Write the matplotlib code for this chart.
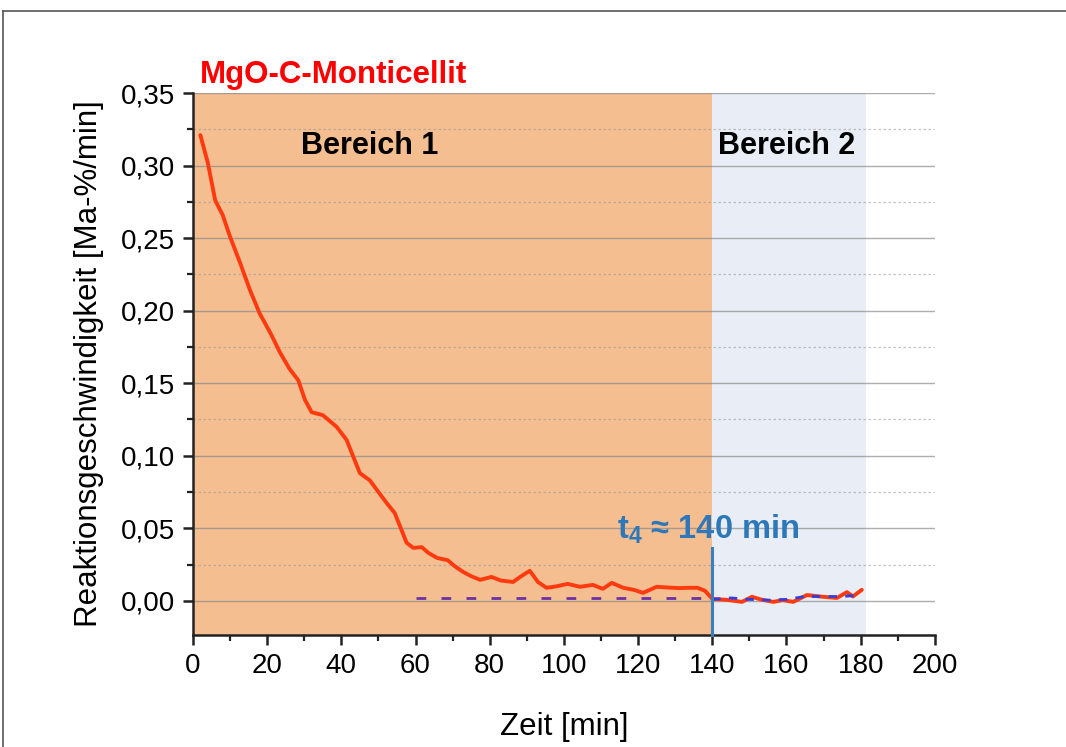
import numpy as np
import matplotlib
matplotlib.use("Agg")
import matplotlib.pyplot as plt
from matplotlib.ticker import MultipleLocator, FuncFormatter
from matplotlib.lines import Line2D

plt.rcParams['font.family'] = ['Liberation Sans', 'DejaVu Sans']

# Messkurve Reaktionsgeschwindigkeit (rot)
zeit = [2, 4, 6, 8, 10, 12.7, 15.4, 18, 21, 23.5, 26, 28.4, 30.2, 32, 35, 38.7,
        41.4, 45, 47.7, 50, 52.2, 54.4, 57.6, 59.4, 61.7, 63.5, 65.8, 68.7,
        70.5, 72.8, 75, 77.4, 80.5, 83, 86.3, 88.5, 90.8, 93, 95.3, 98, 101,
        104.3, 107.8, 110.5, 112.9, 116, 119, 121.3, 125, 128, 131, 134, 136,
        138, 140, 143.9, 148, 150.7, 153, 156.4, 159, 161.8, 165.5, 169.8,
        173.6, 176.3, 177.9, 180.3]
rate = [0.321, 0.302, 0.276, 0.266, 0.251, 0.233, 0.214, 0.198, 0.184, 0.171,
        0.160, 0.152, 0.1385, 0.130, 0.128, 0.120, 0.111, 0.088, 0.083, 0.075,
        0.0675, 0.0605, 0.040, 0.0365, 0.037, 0.033, 0.0296, 0.028, 0.024,
        0.020, 0.017, 0.0145, 0.0165, 0.014, 0.013, 0.017, 0.0207, 0.013,
        0.009, 0.010, 0.0117, 0.0097, 0.011, 0.0083, 0.0124, 0.009, 0.0075,
        0.0055, 0.0097, 0.0092, 0.0088, 0.009, 0.009, 0.007, 0.0014, 0.0007,
        -0.0007, 0.0028, 0.001, -0.0007, 0.0005, -0.0007, 0.004, 0.0028,
        0.002, 0.006, 0.003, 0.0076]

# Ausgleichslinien (gestrichelt)
fit1_x = [60, 140]
fit1_y = [0.002, 0.002]
fit2_x = [140, 145, 150, 155, 160, 165, 170, 175, 180]
fit2_y = [0.001, 0.002, 0.001, 0.0005, 0.001, 0.003, 0.003, 0.003, 0.004]

# Bereiche
bereich1 = (0, 140)
bereich2 = (140, 181.5)
t4 = 140
t4_top = 0.0365

fig = plt.figure(figsize=(10.66, 7.47), dpi=100)
ax = fig.add_axes([0.181, 0.150, 0.696, 0.7255])

ymin, ymax = -0.0235, 0.35
ax.set_xlim(0, 200)
ax.set_ylim(ymin, ymax)

ax.axvspan(*bereich1, color='#F4BE90', zorder=0.2, lw=0)
ax.axvspan(*bereich2, color='#E9EDF5', zorder=0.2, lw=0)

ax.set_axisbelow(True)
ax.yaxis.set_major_locator(MultipleLocator(0.05))
ax.yaxis.set_minor_locator(MultipleLocator(0.025))
ax.xaxis.set_major_locator(MultipleLocator(20))
ax.xaxis.set_minor_locator(MultipleLocator(10))
ax.grid(axis='y', which='major', color='#8a8a8a', lw=1.0, alpha=0.7)
ax.grid(axis='y', which='minor', color='#9a9a9a', lw=0.9, ls=(0, (2, 2)), alpha=0.6)

ax.yaxis.set_major_formatter(FuncFormatter(lambda v, p: f"{v:.2f}".replace('.', ',')))

for s in ['top', 'right']:
    ax.spines[s].set_visible(False)
for s in ['left', 'bottom']:
    ax.spines[s].set_linewidth(1.8)
    ax.spines[s].set_color('#222222')

ax.tick_params(which='major', length=7, width=1.8, labelsize=20, color='#222222', pad=6)
ax.tick_params(which='minor', length=4, width=1.6, color='#222222')

ax.plot(fit1_x, fit1_y, color='#7030A0', lw=2, dashes=(3.5, 5.5), zorder=3)
ax.plot(zeit, rate, color='#FF3A10', lw=2.8, zorder=4, solid_joinstyle='round',
        solid_capstyle='round')
ax.plot(fit2_x, fit2_y, color='#3040E0', lw=2, dashes=(3, 3), zorder=5)
ax.plot([t4, t4], [ymin, t4_top], color='#3A80C0', lw=2.2, zorder=6, clip_on=False)

ax.text(47.7, 0.3135, 'Bereich 1', fontsize=22, fontweight='bold', ha='center', va='center')
ax.text(160, 0.3135, 'Bereich 2', fontsize=22, fontweight='bold', ha='center', va='center')
ax.text(138.8, 0.049, r'$\mathregular{t_4}$ ≈ 140 min', fontsize=23.5, fontweight='bold',
        color='#2E78BA', ha='center', va='center')

ax.text(0.01, 1.005, 'MgO-C-Monticellit', transform=ax.transAxes, fontsize=22.5,
        fontweight='bold', color='#FF0000', ha='left', va='bottom')

ax.set_xlabel('Zeit [min]', fontsize=22.5, labelpad=24)
ax.set_ylabel('Reaktionsgeschwindigkeit [Ma-%/min]', fontsize=22.5, labelpad=12)

# Rahmen
fig.add_artist(Line2D([0.003, 1.0], [0.985, 0.985], color='#555555', lw=1.2,
                      transform=fig.transFigure))
fig.add_artist(Line2D([0.003, 0.003], [0.0, 0.985], color='#555555', lw=1.2,
                      transform=fig.transFigure))

fig.savefig('out.png', dpi=100)
